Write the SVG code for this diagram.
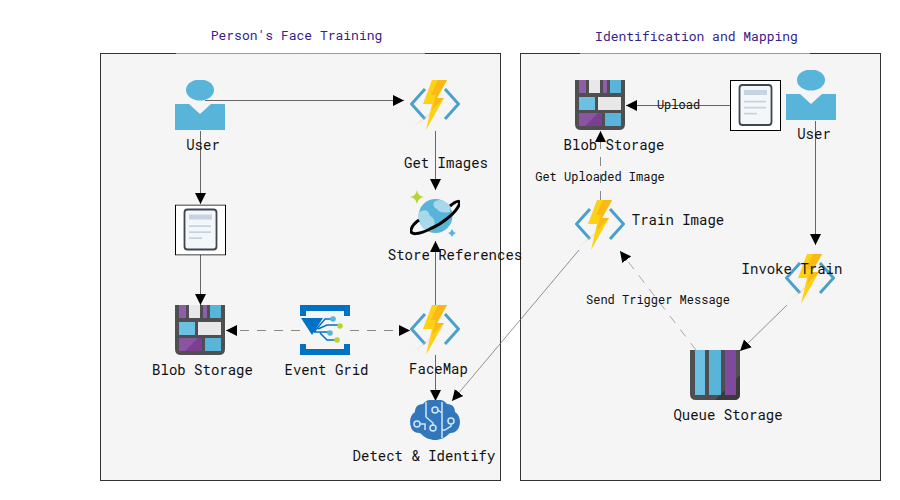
<svg xmlns="http://www.w3.org/2000/svg" width="900" height="500" viewBox="0 0 900 500">
<style>
text{font-family:"Roboto Mono","DejaVu Sans Mono","Liberation Mono",monospace;fill:#111;text-anchor:middle;font-size:14px}
.title{fill:#37218a;font-size:13px}
.el{font-size:12px}
.cluster{fill:#f5f5f5;stroke:#333;stroke-width:1}
.c{fill:none;stroke:#666;stroke-width:1;marker-end:url(#ah)}
.t{stroke-width:.7}
.d{stroke:#888;stroke-dasharray:9 8}
</style>
<defs>
<marker id="ah" markerUnits="userSpaceOnUse" markerWidth="12" markerHeight="12" refX="11" refY="6" orient="auto"><path d="M0,0.500L11,6L0,11.500z" fill="#000"/></marker>
<symbol id="user" viewBox="0 0 50 50"><ellipse cx="25" cy="10" rx="14" ry="10.500" fill="#59b4d9"/><path d="M0,24H14L25,34L36,24H50V50H0z" fill="#59b4d9"/></symbol>
<symbol id="doc" viewBox="0 0 51 51"><rect x=".5" y=".5" width="50" height="50" fill="#fff" stroke="#000" stroke-width="1"/><rect x="9.500" y="5" width="32" height="40" rx="3" fill="#f4f7fa" stroke="#3e4650" stroke-width="1.800"/><rect x="14" y="10" width="23" height="5" fill="#c5d4e0"/><path d="M14,21.700H36M14,27.700H36M14,33.700H27" stroke="#c5d4e0" stroke-width="1.800"/></symbol>
<symbol id="blob" viewBox="0 0 50 50"><path d="M0,0H50V44Q50,50 44,50H6Q0,50 0,44z" fill="#4f4f52"/><rect x="4" y="0" width="7" height="13" fill="#8e5ea8"/><rect x="14" y="0" width="11" height="13" fill="#e8e8e8"/><rect x="28" y="0" width="4" height="13" fill="#8e5ea8"/><rect x="35" y="0" width="11" height="13" fill="#59b4d9"/><rect x="4" y="17" width="16" height="13" fill="#6cc0e2"/><rect x="23" y="17" width="23" height="13" fill="#e8e8e8"/><rect x="4" y="33" width="23" height="13" fill="#8a54a0"/><rect x="30" y="33" width="16" height="13" fill="#59b4d9"/><path d="M10,46L23,33H27V46z" fill="#7a3f92"/></symbol>
<symbol id="func" viewBox="0 0 50 50"><path d="M15,9L1.500,24L15,39M35,9L48.500,24L35,39" fill="none" stroke="#4aa0cc" stroke-width="3"/><path d="M3,47L33,21L20,36z" fill="#f9c98a" opacity=".3"/><path d="M22,0H37L27,18H34L16,50L22,24H13z" fill="#fcd116"/><path d="M28,0H37L27,18H34L22,30L26,15H21z" fill="#f9b916"/></symbol>
<symbol id="cosmos" viewBox="0 0 50 50"><path d="M7,0Q8,6 14,7Q8,8 7,14Q6,8 0,7Q6,6 7,0z" fill="#b8d432"/><path d="M42,39Q43,42 46,43Q43,44 42,47Q41,44 38,43Q41,42 42,39z" fill="#59b4d9"/><circle cx="25.500" cy="26" r="17" fill="#59b4d9"/><path d="M9,22Q18,17 20,26Q28,30 22,41Q12,42 9,30z" fill="#a8d8ec"/><path d="M24,12Q30,8 35,12Q42,14 40,22Q30,24 27,19Q22,17 24,12z" fill="#a8d8ec"/><path d="M40,16C47,10 51,10 49,15C46,22 34,33 20,39C8,45 0,45 1,40C2,36 6,32 9,30" fill="none" stroke="#000" stroke-width="3"/></symbol>
<symbol id="grid" viewBox="0 0 50 50"><path d="M0,0H50V11H44V6H6V11H0zM0,50H50V39H44V44H6V39H0z" fill="#0072c6"/><path d="M1,13H23L12,30z" fill="#0072c6"/><path d="M14,27L25,14H33M18,24L27,20H40M14,27H30M20,28L27,35H37" fill="none" stroke="#0072c6" stroke-width="1.500"/><circle cx="33" cy="14" r="2.800" fill="#59b4d9"/><circle cx="40" cy="21" r="2.800" fill="#b8d432"/><circle cx="30" cy="28" r="2.800" fill="#59b4d9"/><circle cx="37" cy="35" r="2.800" fill="#b8d432"/></symbol>
<symbol id="brain" viewBox="0 0 52 40"><path d="M26,0C32,-1 36,1 38,4C44,4 46,8 46,12C51,15 52,22 50,27C48,32 44,33 41,33C36,38 31,40 26,40C21,40 16,38 11,33C8,33 3,32 2,27C0,22 1,15 6,12C6,8 8,4 14,4C16,1 20,-1 26,0z" fill="#3277bc"/><g fill="none" stroke="#cfe6f5" stroke-width="1.500"><path d="M17,2V17L24,23V25M33,2V38M29,10L33,13M42,24V26L36,30H33M11,24H16V30"/><circle cx="26" cy="10" r="3"/><circle cx="42" cy="21" r="3"/><circle cx="24" cy="28" r="3"/><circle cx="8" cy="24" r="3"/></g></symbol>
<symbol id="queue" viewBox="0 0 50 50"><path d="M0,0H50V44Q50,50 44,50H6Q0,50 0,44z" fill="#4f4f52"/><path d="M30,45L50,25V44Q50,50 44,50H25z" fill="#3a3a3d"/><rect x="5" y="0" width="10" height="45" fill="#6cc0e2"/><rect x="19" y="0" width="12" height="45" fill="#59b4d9"/><rect x="35" y="0" width="11" height="45" fill="#7f4a9c"/></symbol>
</defs>
<rect width="900" height="500" fill="#fff"/>
<g id="cluster-training"><rect class="cluster" x="100.500" y="53.500" width="400" height="427"/><path d="M176,53.500H425" stroke="#999" stroke-width="1"/><text class="title" x="296.500" y="40">Person's Face Training</text></g>
<g id="cluster-mapping"><rect class="cluster" x="520.500" y="53.500" width="360" height="427"/><path d="M580,53.500H810" stroke="#999" stroke-width="1"/><text class="title" x="696.500" y="41">Identification and Mapping</text></g>
<g id="connectors">
<path class="c" d="M205,100.500H404"/>
<path class="c" d="M200.500,131V204"/>
<path class="c" d="M200.500,255V305"/>
<path class="c" d="M435.500,131V190"/>
<path class="c d" d="M300,330.500H226"/>
<path class="c d" d="M350,330.500H410"/>
<path class="c" d="M435.500,305V241"/>
<path class="c" d="M435.500,355V401"/>
<path class="c t" d="M579,250L452,401"/>
<path class="c" d="M730,105.500H626"/>
<path class="c d" d="M600.500,200V131"/>
<path class="c" d="M815.500,121V245"/>
<path class="c t" d="M787,305L740,351"/>
<path class="c d t" d="M696,350L620,251"/>
<text class="el" x="678.500" y="109">Upload</text>
<text class="el" x="600" y="181">Get Uploaded Image</text>
<text class="el" x="658" y="304">Send Trigger Message</text>
</g>
<g id="user1"><use href="#user" x="175" y="80" width="50" height="50"/><text x="203" y="150">User</text></g>
<g id="doc1"><use href="#doc" x="175" y="204.500" width="51" height="51"/></g>
<g id="blob1"><use href="#blob" x="175" y="305" width="50" height="50"/><text x="202.500" y="375">Blob Storage</text></g>
<g id="grid1"><use href="#grid" x="300" y="305" width="50" height="50"/><text x="326.500" y="375">Event Grid</text></g>
<g id="func1"><use href="#func" x="410" y="80" width="50" height="50"/><text x="446" y="168">Get Images</text></g>
<g id="cosmos1"><use href="#cosmos" x="410" y="190" width="50" height="50"/><text x="455" y="260">Store References</text></g>
<g id="func2"><use href="#func" x="410" y="305" width="50" height="50"/><text x="438.500" y="374">FaceMap</text></g>
<g id="brain1"><use href="#brain" x="409" y="400" width="52" height="40"/><text x="424" y="461">Detect &amp; Identify</text></g>
<g id="blob2"><use href="#blob" x="575" y="80" width="50" height="50"/><text x="614" y="150">Blob Storage</text></g>
<g id="doc2"><use href="#doc" x="730" y="80" width="51" height="51"/></g>
<g id="user2"><use href="#user" x="786" y="70" width="50" height="50"/><text x="814" y="139">User</text></g>
<g id="func3"><use href="#func" x="575" y="200" width="50" height="50"/><text x="678" y="225">Train Image</text></g>
<g id="func4"><use href="#func" x="785" y="254" width="50" height="50"/><text x="792" y="274">Invoke Train</text></g>
<g id="queue1"><use href="#queue" x="690" y="350" width="50" height="50"/><text x="728" y="420">Queue Storage</text></g>
</svg>
